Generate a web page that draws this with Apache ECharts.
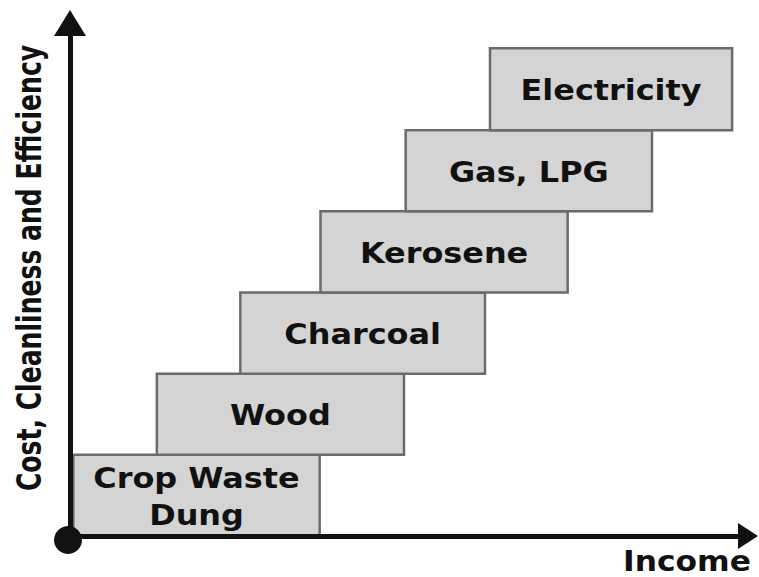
<!DOCTYPE html>
<html>
<head>
<meta charset="utf-8">
<script src="https://cdn.jsdelivr.net/npm/echarts@6/dist/echarts.min.js"></script>
<style>
  html, body { margin: 0; padding: 0; background: #ffffff; }
  #chart { width: 759px; height: 577px; }
</style>
</head>
<body>
<div id="chart"></div>
<script>
// ---- data ----
const categories = ['Crop Waste\nDung', 'Wood', 'Charcoal', 'Kerosene', 'Gas, LPG', 'Electricity'];
const xStart = [0.04, 1.04, 2.04, 3.0, 4.02, 5.03];
const xEnd   = [2.99, 4.0, 4.97, 5.96, 6.97, 7.93];
const yStart = [0, 1, 2, 3, 4, 5];
const yEnd   = [1, 2, 3, 4, 5, 6.01];
const xAxisTitle = 'Income';
const yAxisTitle = 'Cost, Cleanliness and Efficiency';
const origin = [[0, 0]];

const boxData = categories.map((c, i) => [xStart[i], xEnd[i], yStart[i], yEnd[i], i]);

const FONT = '"DejaVu Sans", "Liberation Sans", sans-serif';

const chart = echarts.init(document.getElementById('chart'), null, { renderer: 'svg' });

chart.setOption({
  animation: false,
  backgroundColor: '#ffffff',
  grid: { left: 70, right: 11, top: 23, bottom: 41, containLabel: false },
  xAxis: {
    type: 'value', min: 0, max: 8.12, z: 10,
    axisLine: { show: true, lineStyle: { color: '#111111', width: 5 },
                symbol: ['none', 'triangle'], symbolSize: [26, 20] },
    axisTick: { show: false }, axisLabel: { show: false }, splitLine: { show: false }
  },
  yAxis: {
    type: 'value', min: 0, max: 6.32, z: 10,
    axisLine: { show: true, lineStyle: { color: '#111111', width: 5 },
                symbol: ['none', 'triangle'], symbolSize: [32, 26] },
    axisTick: { show: false }, axisLabel: { show: false }, splitLine: { show: false }
  },
  graphic: [
    {
      type: 'text', x: 30, y: 268, rotation: Math.PI / 2, scaleX: 0.76,
      style: { text: yAxisTitle, fill: '#111111', fontSize: 33, fontWeight: 'bold',
               fontFamily: FONT, align: 'center', verticalAlign: 'middle' }
    },
    {
      type: 'text', x: 687, y: 561, scaleX: 1.12,
      style: { text: xAxisTitle, fill: '#111111', fontSize: 28, lineHeight: 28, fontWeight: 'bold',
               fontFamily: FONT, align: 'center', verticalAlign: 'middle' }
    }
  ],
  series: [
    {
      type: 'custom',
      z: 2,
      data: boxData,
      encode: { x: [0, 1], y: [2, 3] },
      renderItem: function (params, api) {
        const p0 = api.coord([api.value(0), api.value(3)]);
        const p1 = api.coord([api.value(1), api.value(2)]);
        const idx = api.value(4);
        const cx = (p0[0] + p1[0]) / 2;
        const cy = (p0[1] + p1[1]) / 2;
        return {
          type: 'group',
          children: [
            {
              type: 'rect',
              shape: { x: p0[0], y: p0[1], width: p1[0] - p0[0], height: p1[1] - p0[1] },
              style: { fill: '#d4d4d4', stroke: '#6b6b6b', lineWidth: 2.5 }
            },
            {
              type: 'text', x: cx, y: cy + 1, scaleX: 1.1,
              style: { text: categories[idx], fill: '#111111', fontSize: 29, fontWeight: 'bold',
                       fontFamily: FONT, align: 'center', verticalAlign: 'middle', lineHeight: 37 }
            }
          ]
        };
      }
    },
    {
      type: 'scatter',
      z: 20,
      data: origin,
      symbol: 'circle',
      symbolSize: 28,
      symbolOffset: [-2, 4],
      itemStyle: { color: '#111111', opacity: 1 },
      silent: true
    }
  ]
});
</script>
</body>
</html>
